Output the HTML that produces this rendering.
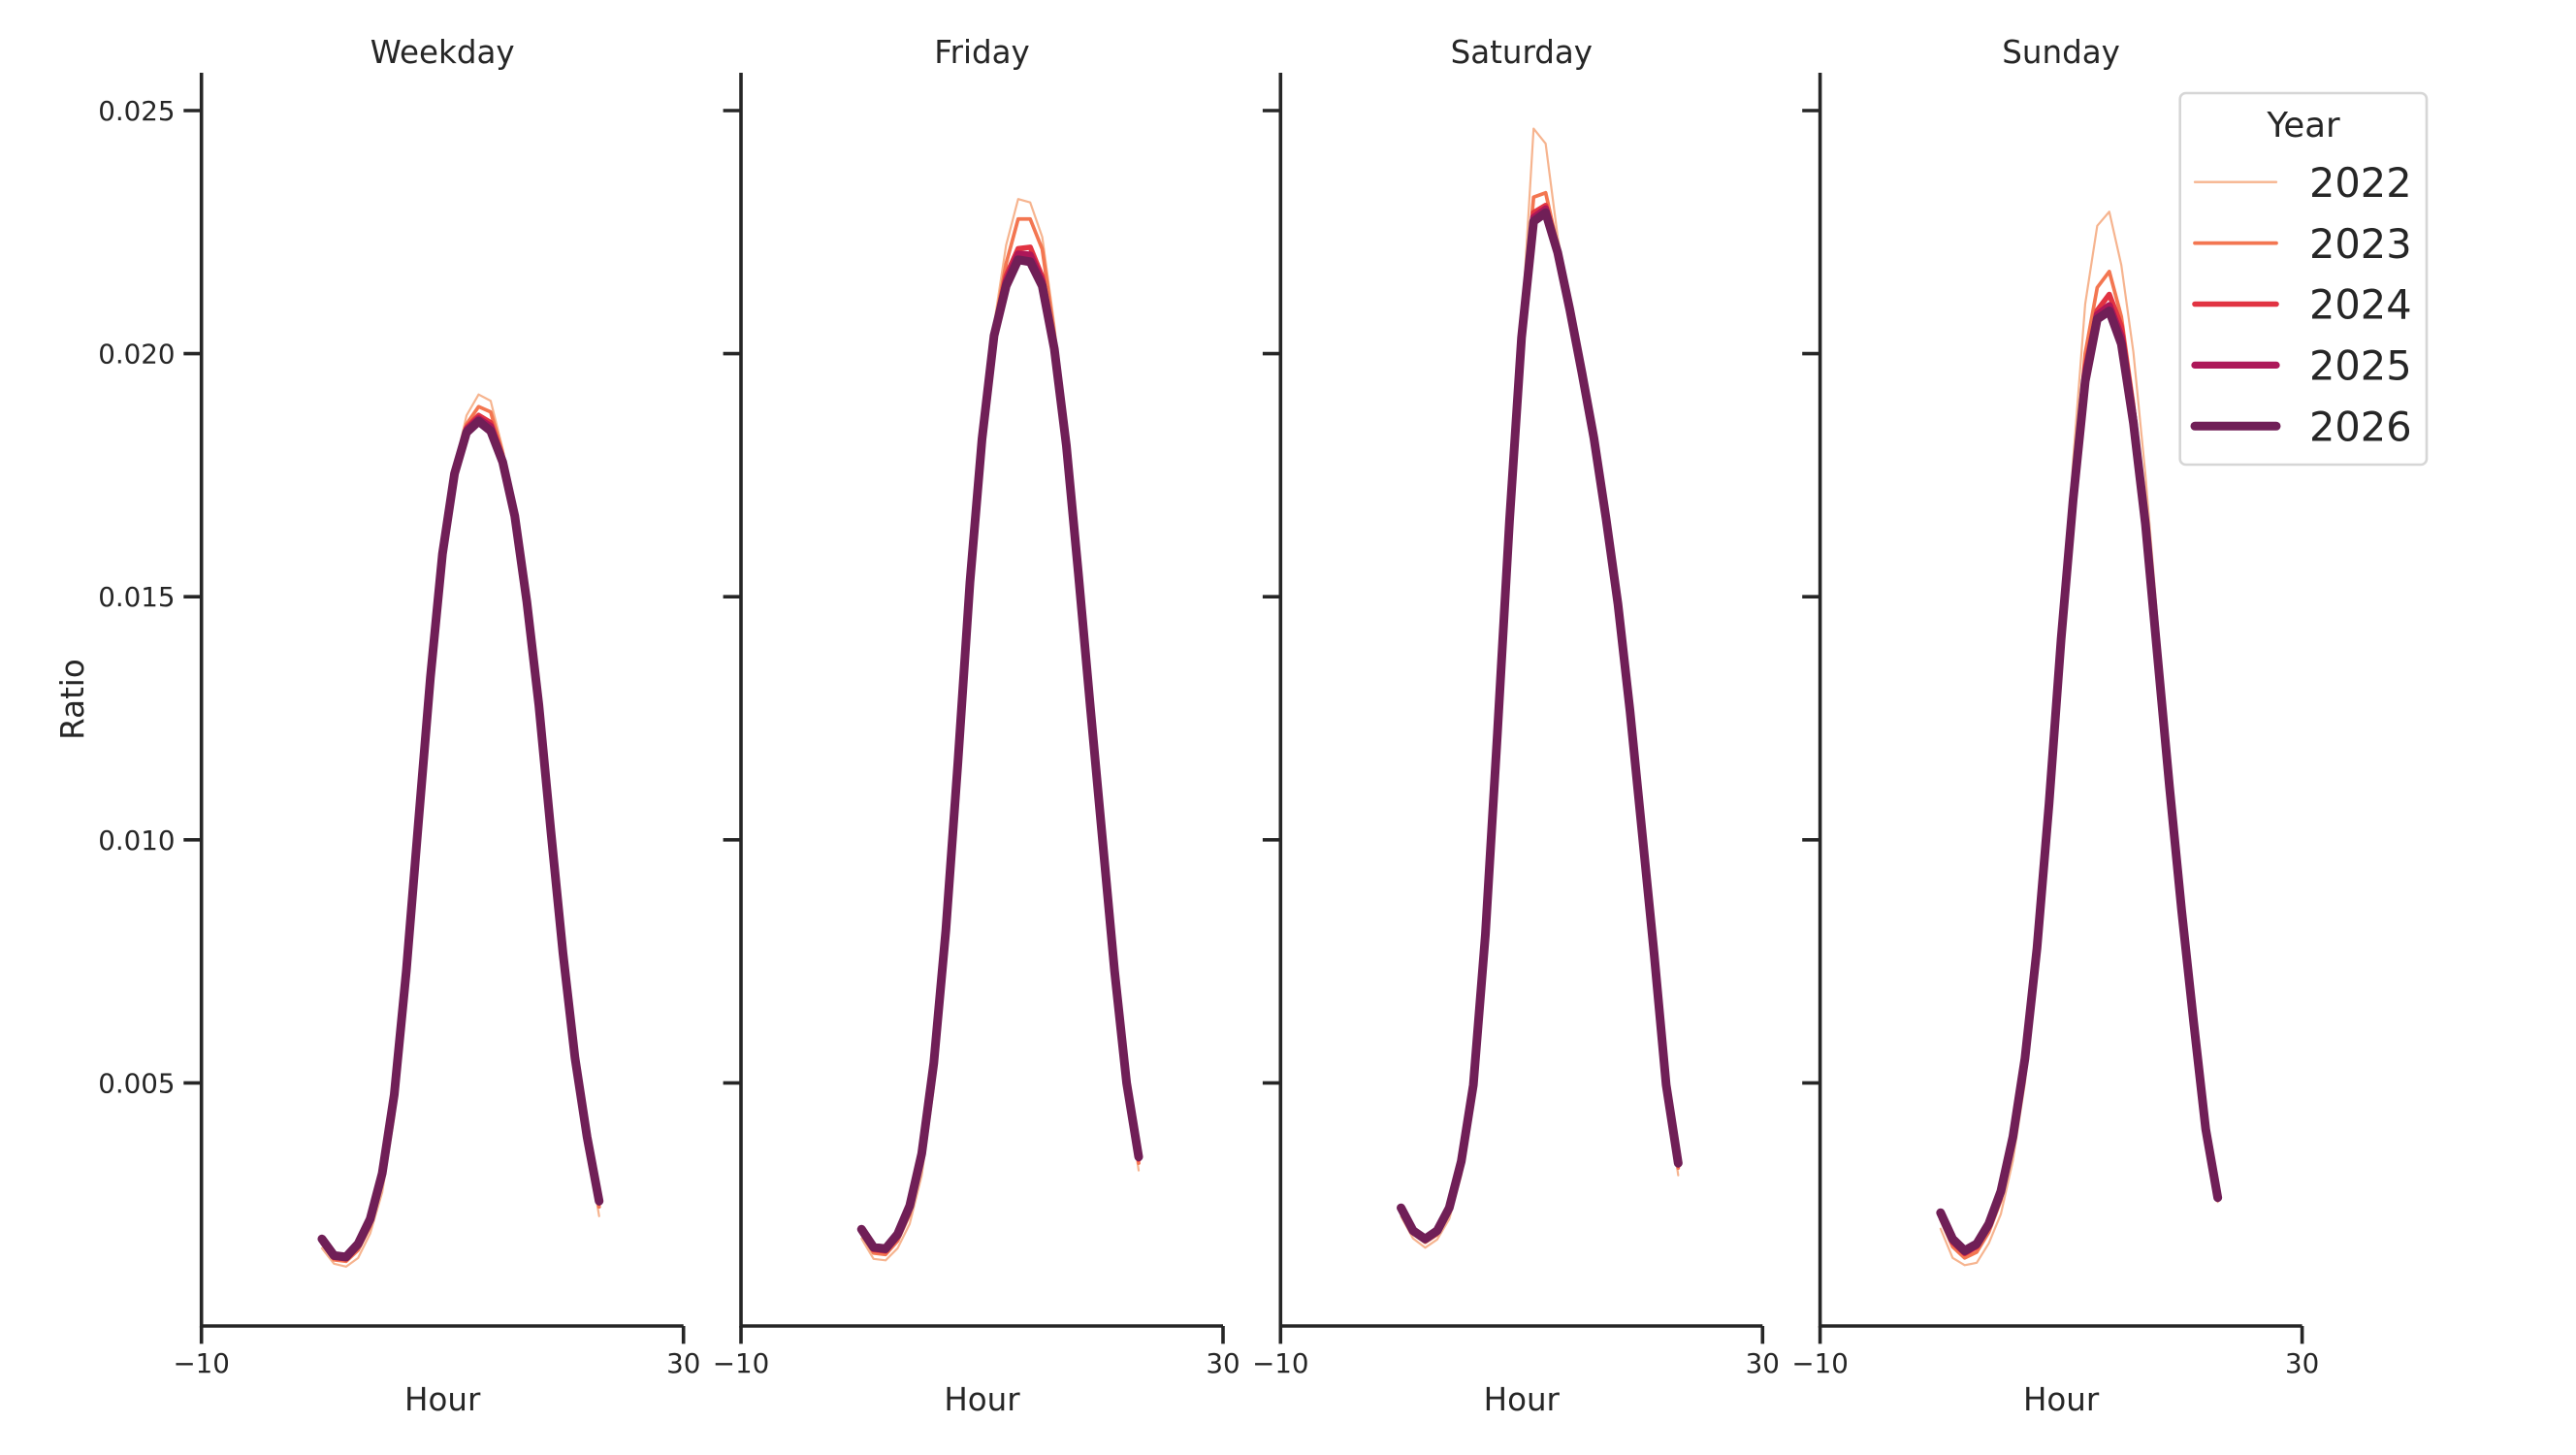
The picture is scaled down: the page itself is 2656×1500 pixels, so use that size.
<!DOCTYPE html>
<html>
<head>
<meta charset="utf-8">
<style>
  html, body { margin: 0; padding: 0; background: #ffffff; }
  svg { display: block; }
  text { font-family: "DejaVu Sans", "Liberation Sans", sans-serif; fill: #262626; }
  .tick { font-size: 27.7px; }
  .lab { font-size: 32.5px; }
  .leg { font-size: 41.5px; }
  .legt { font-size: 35.5px; }
  .ax { fill: none; stroke: #262626; stroke-width: 3.6; }
  polyline { fill: none; stroke-linejoin: round; stroke-linecap: round; }
</style>
</head>
<body>
<svg xmlns="http://www.w3.org/2000/svg" width="2656" height="1500" viewBox="0 0 2656 1500">
  <rect x="0" y="0" width="2656" height="1500" fill="#ffffff"/>

  <!-- Y axis label -->
  <text class="lab" transform="translate(86,721) rotate(-90)" text-anchor="middle">Ratio</text>

  <!-- Y tick labels (first panel only) -->
  <text class="tick" x="180.5" y="124" text-anchor="end">0.025</text>
  <text class="tick" x="180.5" y="374.6" text-anchor="end">0.020</text>
  <text class="tick" x="180.5" y="625.2" text-anchor="end">0.015</text>
  <text class="tick" x="180.5" y="875.8" text-anchor="end">0.010</text>
  <text class="tick" x="180.5" y="1126.4" text-anchor="end">0.005</text>

  <!-- ===== Panel 1: Weekday ===== -->
  <g>
    <path class="ax" d="M207.7 75 V1367 H704.7"/>
    <path class="ax" d="M189.3 114 H207.7 M189.3 364.6 H207.7 M189.3 615.2 H207.7 M189.3 865.8 H207.7 M189.3 1116.4 H207.7"/>
    <path class="ax" d="M207.7 1367 V1385.4 M704.7 1367 V1385.4"/>
    <text class="tick" x="207.7" y="1415" text-anchor="middle">−10</text>
    <text class="tick" x="704.7" y="1415" text-anchor="middle">30</text>
    <text class="lab" x="456.2" y="65" text-anchor="middle">Weekday</text>
    <text class="lab" x="456.2" y="1454" text-anchor="middle">Hour</text>
    <g transform="translate(331.95,1367) scale(12.425,-5.012)">
      <polyline vector-effect="non-scaling-stroke" stroke="#f6b48f" stroke-width="2.2" points="0,16 1,12.8 2,12.2 3,14 4,19 5,27.5 6,43 7,68.5 8,100 9,132 10,158.8 11,176.5 12,187.3 13,191.6 14,190.3 15,180.4 16,168 17,150 18,128 19,101.7 20,76.5 21,54.5 22,37.5 23,22.6"/>
      <polyline vector-effect="non-scaling-stroke" stroke="#f37651" stroke-width="3.7" points="0,17 1,13.6 2,13.3 3,15.6 4,20.5 5,29.5 6,45.5 7,71 8,102 9,133 10,158.8 11,176 12,185.5 13,189.1 14,188 15,179.5 16,167.5 17,149.5 18,127.8 19,101.7 20,76.6 21,54.8 22,38.3 23,24.5"/>
      <polyline vector-effect="non-scaling-stroke" stroke="#e13342" stroke-width="5.5" points="0,17.5 1,14.1 2,13.8 3,16.4 4,21.4 5,30.6 6,46.8 7,72.3 8,103 9,133.3 10,158.8 11,175.6 12,184.8 13,187.3 14,185.8 15,178.6 16,167 17,149.2 18,127.7 19,101.7 20,76.7 21,55 22,38.7 23,25.3"/>
      <polyline vector-effect="non-scaling-stroke" stroke="#ad1759" stroke-width="7.2" points="0,17.7 1,14.3 2,14 3,16.7 4,21.7 5,31 6,47.2 7,72.7 8,103.2 9,133.4 10,158.8 11,175.4 12,184.3 13,186.6 14,185 15,178.1 16,166.8 17,149.1 18,127.7 19,101.7 20,76.7 21,55.1 22,38.8 23,25.5"/>
      <polyline vector-effect="non-scaling-stroke" stroke="#701f57" stroke-width="9" points="0,17.9 1,14.5 2,14.2 3,16.9 4,22 5,31.4 6,47.6 7,73 8,103.4 9,133.4 10,158.8 11,175.3 12,183.8 13,186.1 14,184.1 15,177.7 16,166.6 17,149 18,127.7 19,101.7 20,76.7 21,55.1 22,38.9 23,25.7"/>
    </g>
  </g>

  <!-- ===== Panel 2: Friday ===== -->
  <g>
    <path class="ax" d="M764 75 V1367 H1261"/>
    <path class="ax" d="M745.6 114 H764 M745.6 364.6 H764 M745.6 615.2 H764 M745.6 865.8 H764 M745.6 1116.4 H764"/>
    <path class="ax" d="M764 1367 V1385.4 M1261 1367 V1385.4"/>
    <text class="tick" x="764" y="1415" text-anchor="middle">−10</text>
    <text class="tick" x="1261" y="1415" text-anchor="middle">30</text>
    <text class="lab" x="1012.5" y="65" text-anchor="middle">Friday</text>
    <text class="lab" x="1012.5" y="1454" text-anchor="middle">Hour</text>
    <g transform="translate(888.25,1367) scale(12.425,-5.012)">
      <polyline vector-effect="non-scaling-stroke" stroke="#f6b48f" stroke-width="2.2" points="0,18 1,13.8 2,13.5 3,16 4,21 5,31 6,49 7,77 8,113 9,152 10,183 11,206 12,222.3 13,231.8 14,231.1 15,224 16,206 17,183.5 18,155.5 19,127 20,99.5 21,72 22,48.5 23,32"/>
      <polyline vector-effect="non-scaling-stroke" stroke="#f37651" stroke-width="3.7" points="0,19 1,15 2,14.7 3,17.5 4,23 5,33.3 6,51.5 7,79.2 8,114.5 9,152.5 10,182.7 11,205 12,218.5 13,227.7 14,227.7 15,221.5 16,204 17,182.2 18,155 19,127 20,99.8 21,72.6 22,49.3 23,33.5"/>
      <polyline vector-effect="non-scaling-stroke" stroke="#e13342" stroke-width="5.5" points="0,19.5 1,15.7 2,15.4 3,18.3 4,24 5,34.5 6,53 7,80.5 8,115.4 9,152.8 10,182.5 11,204.3 12,216 13,221.6 14,221.9 15,215.8 16,202 17,181.5 18,154.8 19,127 20,100 21,72.9 22,49.8 23,34.3"/>
      <polyline vector-effect="non-scaling-stroke" stroke="#ad1759" stroke-width="7.2" points="0,19.7 1,16 2,15.7 3,18.6 4,24.4 5,35 6,53.6 7,81 8,115.7 9,152.9 10,182.4 11,204 12,214.8 13,220.5 14,220.3 15,214.8 16,201.5 17,181.3 18,154.7 19,127 20,100 21,73 22,49.9 23,34.6"/>
      <polyline vector-effect="non-scaling-stroke" stroke="#701f57" stroke-width="9" points="0,19.9 1,16.2 2,15.9 3,18.9 4,24.7 5,35.5 6,54.1 7,81.4 8,115.9 9,153 10,182.4 11,203.7 12,213.9 13,219.3 14,218.9 15,213.9 16,201 17,181.1 18,154.7 19,127 20,100 21,73 22,50 23,34.8"/>
    </g>
  </g>

  <!-- ===== Panel 3: Saturday ===== -->
  <g>
    <path class="ax" d="M1320.3 75 V1367 H1817.3"/>
    <path class="ax" d="M1301.9 114 H1320.3 M1301.9 364.6 H1320.3 M1301.9 615.2 H1320.3 M1301.9 865.8 H1320.3 M1301.9 1116.4 H1320.3"/>
    <path class="ax" d="M1320.3 1367 V1385.4 M1817.3 1367 V1385.4"/>
    <text class="tick" x="1320.3" y="1415" text-anchor="middle">−10</text>
    <text class="tick" x="1817.3" y="1415" text-anchor="middle">30</text>
    <text class="lab" x="1568.8" y="65" text-anchor="middle">Saturday</text>
    <text class="lab" x="1568.8" y="1454" text-anchor="middle">Hour</text>
    <g transform="translate(1444.55,1367) scale(12.425,-5.012)">
      <polyline vector-effect="non-scaling-stroke" stroke="#f6b48f" stroke-width="2.2" points="0,22.5 1,18 2,16.1 3,17.8 4,22 5,31 6,45.5 7,76 8,119 9,165 10,205 11,246.3 12,243.2 13,224 14,210.5 15,197 16,183 17,166.3 18,148 19,126 20,101 21,76 22,48.5 23,31"/>
      <polyline vector-effect="non-scaling-stroke" stroke="#f37651" stroke-width="3.7" points="0,23.5 1,19 2,17.2 3,18.8 4,23.3 5,32.8 6,47.8 7,78.5 8,121 9,165.5 10,204 11,232.2 12,233.1 13,222 14,209.5 15,196.5 16,182.8 17,166.3 18,148.4 19,126.3 20,101.4 21,76.4 22,49.2 23,32.5"/>
      <polyline vector-effect="non-scaling-stroke" stroke="#e13342" stroke-width="5.5" points="0,24 1,19.3 2,17.6 3,19.3 4,23.9 5,33.4 6,48.9 7,79.8 8,121.6 9,165.6 10,203.6 11,229 12,230.5 13,221.3 14,209.3 15,196.3 16,182.7 17,166.3 18,148.5 19,126.4 20,101.5 21,76.5 22,49.4 23,33.1"/>
      <polyline vector-effect="non-scaling-stroke" stroke="#ad1759" stroke-width="7.2" points="0,24.2 1,19.5 2,17.8 3,19.5 4,24.1 5,33.7 6,49.3 7,80.2 8,121.8 9,165.6 10,203.4 11,228 12,229.8 13,221 14,209.2 15,196.2 16,182.7 17,166.3 18,148.5 19,126.5 20,101.6 21,76.6 22,49.5 23,33.3"/>
      <polyline vector-effect="non-scaling-stroke" stroke="#701f57" stroke-width="9" points="0,24.3 1,19.6 2,17.9 3,19.6 4,24.3 5,33.9 6,49.6 7,80.5 8,122 9,165.6 10,203.3 11,227.2 12,229 13,220.8 14,209.1 15,196.2 16,182.7 17,166.3 18,148.5 19,126.5 20,101.6 21,76.6 22,49.6 23,33.5"/>
    </g>
  </g>

  <!-- ===== Panel 4: Sunday ===== -->
  <g>
    <path class="ax" d="M1876.6 75 V1367 H2373.6"/>
    <path class="ax" d="M1858.2 114 H1876.6 M1858.2 364.6 H1876.6 M1858.2 615.2 H1876.6 M1858.2 865.8 H1876.6 M1858.2 1116.4 H1876.6"/>
    <path class="ax" d="M1876.6 1367 V1385.4 M2373.6 1367 V1385.4"/>
    <text class="tick" x="1876.6" y="1415" text-anchor="middle">−10</text>
    <text class="tick" x="2373.6" y="1415" text-anchor="middle">30</text>
    <text class="lab" x="2125.1" y="65" text-anchor="middle">Sunday</text>
    <text class="lab" x="2125.1" y="1454" text-anchor="middle">Hour</text>
    <g transform="translate(2000.85,1367) scale(12.425,-5.012)">
      <polyline vector-effect="non-scaling-stroke" stroke="#f6b48f" stroke-width="2.2" points="0,20 1,14 2,12.5 3,13 4,17 5,23 6,34 7,50 8,74 9,106 10,142 11,178 12,210.2 13,226.3 14,229.2 15,218.2 16,200.3 17,175 18,145 19,114 20,86.5 21,62.5 22,40 23,25.5"/>
      <polyline vector-effect="non-scaling-stroke" stroke="#f37651" stroke-width="3.7" points="0,22 1,16.3 2,14 3,15.2 4,19.3 5,25.8 6,36.8 7,53 8,76.3 9,107 10,141.8 11,172 12,200 13,213.6 14,216.9 15,207.6 16,190 17,167.5 18,139 19,111.5 20,85.8 21,62.5 22,40.3 23,26"/>
      <polyline vector-effect="non-scaling-stroke" stroke="#e13342" stroke-width="5.5" points="0,22.8 1,17.2 2,14.9 3,16.3 4,20.3 5,26.9 6,38 7,54.3 8,77.2 9,107.2 10,141.4 11,171 12,197 13,208.9 14,212.2 15,205.6 16,188 17,166 18,138.3 19,111 20,85.6 21,62.5 22,40.4 23,26.2"/>
      <polyline vector-effect="non-scaling-stroke" stroke="#ad1759" stroke-width="7.2" points="0,23 1,17.6 2,15.2 3,16.6 4,20.7 5,27.3 6,38.5 7,54.7 8,77.5 9,107.3 10,141.3 11,170.5 12,195.5 13,208 14,209.9 15,203.5 16,187 17,165.5 18,138 19,111 20,85.5 21,62.5 22,40.5 23,26.3"/>
      <polyline vector-effect="non-scaling-stroke" stroke="#701f57" stroke-width="9" points="0,23.3 1,17.9 2,15.5 3,16.9 4,21 5,27.7 6,38.9 7,55 8,77.7 9,107.4 10,141.2 11,170 12,194.3 13,207.1 14,208.8 15,202 16,185.8 17,164.9 18,137.8 19,110.8 20,85.5 21,62.5 22,40.5 23,26.4"/>
    </g>
  </g>

  <!-- ===== Legend ===== -->
  <g>
    <rect x="2247.7" y="96" width="254.3" height="383" rx="6" ry="6" fill="#ffffff" fill-opacity="0.85" stroke="#d6d6d6" stroke-width="2.6"/>
    <text class="legt" x="2375" y="141" text-anchor="middle">Year</text>
    <line x1="2263" y1="187.7" x2="2347" y2="187.7" stroke="#f6b48f" stroke-width="2.3" stroke-linecap="round"/>
    <line x1="2263" y1="250.6" x2="2347" y2="250.6" stroke="#f37651" stroke-width="3.7" stroke-linecap="round"/>
    <line x1="2263" y1="313.5" x2="2347" y2="313.5" stroke="#e13342" stroke-width="5.6" stroke-linecap="round"/>
    <line x1="2263" y1="376.4" x2="2347" y2="376.4" stroke="#ad1759" stroke-width="7.3" stroke-linecap="round"/>
    <line x1="2263" y1="439.3" x2="2347" y2="439.3" stroke="#701f57" stroke-width="9" stroke-linecap="round"/>
    <text class="leg" x="2381" y="202.9">2022</text>
    <text class="leg" x="2381" y="265.8">2023</text>
    <text class="leg" x="2381" y="328.7">2024</text>
    <text class="leg" x="2381" y="391.6">2025</text>
    <text class="leg" x="2381" y="454.5">2026</text>
  </g>
</svg>
</body>
</html>
